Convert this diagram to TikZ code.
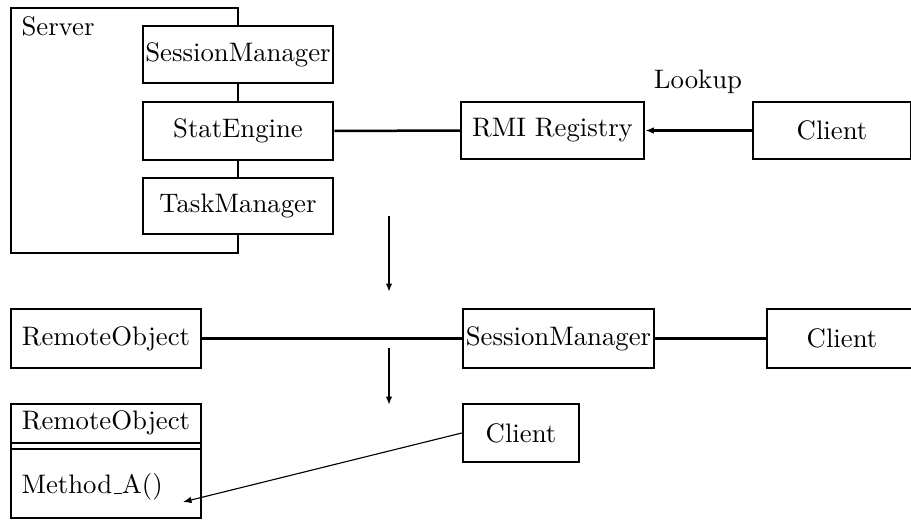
\documentclass[tikz,border=0pt]{standalone}
\usetikzlibrary{arrows.meta}
\newcommand{\lowbar}{\leavevmode\kern.06em\vbox{\hrule width.3em height 0.45pt}}
\begin{document}
\begin{tikzpicture}[x=0.4pt,y=-0.4pt,
  box/.style={draw,line width=1pt,rectangle,inner sep=0pt,font=\fontsize{10.7}{12.8}\selectfont},
  conn/.style={line width=1pt},
  arr/.style={line width=1pt,-{Latex[length=3.4pt,width=2.6pt]}},
  thinarr/.style={line width=0.45pt,-{Latex[length=3.4pt,width=2.6pt]}},
  lbl/.style={inner sep=0pt,font=\fontsize{10.7}{12.8}\selectfont}]
\clip (0,0) rectangle (911,519);
% Server group
\node[box,minimum width=190*0.4pt,minimum height=57*0.4pt] (sm) at (238,54.5) {SessionManager};
\node[box,minimum width=190*0.4pt,minimum height=58*0.4pt] (se) at (238,131) {StatEngine};
\node[box,minimum width=190*0.4pt,minimum height=56*0.4pt] (tm) at (238,206) {TaskManager};
\coordinate (f1) at (238,8);
\coordinate (f2) at (11,8);
\coordinate (f3) at (11,253);
\coordinate (f4) at (238,253);
\draw[conn] (sm.north) -- (f1) -- (f2) -- (f3) -- (f4) -- (tm.south);
\node[lbl,anchor=west] (server) at (21,26) {Server};
\draw[conn] (sm.south) -- (se.north);
\draw[conn] (se.south) -- (tm.north);
% Registry row
\node[box,minimum width=183*0.4pt,minimum height=57*0.4pt] (rmi) at (552.5,130.5) {RMI Registry};
\node[box,minimum width=158*0.4pt,minimum height=57*0.4pt] (c1) at (832,130.5) {Client};
\draw[conn] (se.east) -- (rmi.west);
\draw[arr] (c1.west) -- (rmi.east);
\node[lbl] (lookup) at (698,82) {Lookup};
% first down arrow
\coordinate (a1s) at (389,216);
\coordinate (a1e) at (389,292);
\draw[arr] (a1s) -- (a1e);
% second row
\node[box,minimum width=190*0.4pt,minimum height=59*0.4pt] (ro) at (106,338.5) {RemoteObject};
\node[box,minimum width=191*0.4pt,minimum height=59*0.4pt] (sm2) at (558.5,338.5) {SessionManager};
\node[box,minimum width=150*0.4pt,minimum height=59*0.4pt] (c2) at (842,338.5) {Client};
\draw[conn] (ro.east) -- (sm2.west);
\draw[conn] (sm2.east) -- (c2.west);
% second down arrow
\coordinate (a2s) at (389,348);
\coordinate (a2e) at (389,405);
\draw[arr] (a2s) -- (a2e);
% class box
\node[box,minimum width=190*0.4pt,minimum height=114*0.4pt] (cls) at (106,461) {};
\coordinate (l1a) at (11,443);
\coordinate (l1b) at (201,443);
\coordinate (l2a) at (11,449);
\coordinate (l2b) at (201,449);
\draw[conn] (l1a) -- (l1b);
\draw[conn] (l2a) -- (l2b);
\node[lbl] (clsname) at (106,423) {RemoteObject};
\node[lbl,anchor=west] (meth) at (21,487) {Method\lowbar A()};
% bottom client
\node[box,minimum width=116*0.4pt,minimum height=58*0.4pt] (c3) at (521,433) {Client};
\coordinate (mtip) at (183,502);
\draw[thinarr] (c3.west) -- (mtip);
\end{tikzpicture}
\end{document}
